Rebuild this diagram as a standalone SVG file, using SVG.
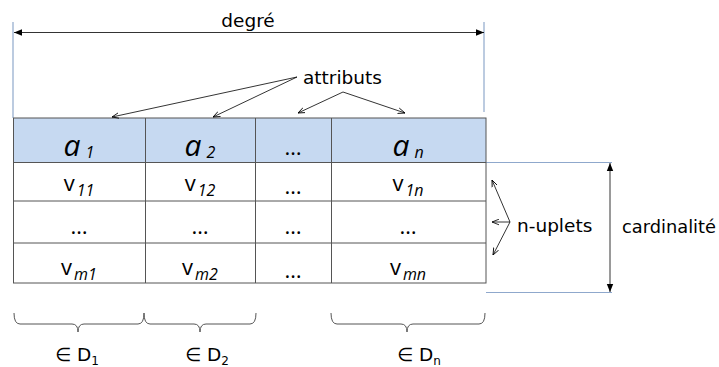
<svg xmlns="http://www.w3.org/2000/svg" width="719" height="367" viewBox="0 0 719 367">
<defs>
<marker id="ah" viewBox="0 0 10 10" refX="10" refY="5" markerWidth="7" markerHeight="7" orient="auto-start-reverse" markerUnits="userSpaceOnUse"><path d="M0,1 L10,5 L0,9" fill="none" stroke="#000" stroke-width="1.2"/></marker>
<marker id="af" viewBox="0 0 10 10" refX="10" refY="5" markerWidth="8" markerHeight="8" orient="auto-start-reverse" markerUnits="userSpaceOnUse"><path d="M0,1 L10,5 L0,9 z" fill="#000"/></marker>
</defs>
<style>
.lbl{font-family:"DejaVu Sans",Verdana,sans-serif;font-size:18.5px;fill:#000}
.cell{font-family:"Open Sans","Liberation Sans",sans-serif;font-size:22px;fill:#000;text-anchor:middle}
.hdr{font-family:"Open Sans","Liberation Sans",sans-serif;font-size:30px;font-style:italic;fill:#000;text-anchor:middle}
.sub{font-style:italic;font-size:16px}
.grid{stroke:#555;stroke-width:1;fill:none}
.blue{stroke:#8fa8cc;stroke-width:1.2;fill:none}
.thin{stroke:#000;stroke-width:0.8;fill:none}
.brace{stroke:#555;stroke-width:1;fill:none}
</style>
<rect width="719" height="367" fill="#fff"/>
<g id="guides">
<line class="blue" x1="13" y1="22" x2="13" y2="118"/>
<line class="blue" x1="484" y1="22" x2="484" y2="112"/>
<line class="blue" x1="486" y1="162.5" x2="612" y2="162.5"/>
<line class="blue" x1="486" y1="292.5" x2="612" y2="292.5"/>
</g>
<g id="table">
<rect x="13.5" y="118" width="472.5" height="44.5" fill="#c6d9f1"/>
<rect class="grid" x="13.5" y="118" width="472.5" height="165"/>
<line class="grid" x1="13.5" y1="162.5" x2="486" y2="162.5"/>
<line class="grid" x1="13.5" y1="201" x2="486" y2="201"/>
<line class="grid" x1="13.5" y1="243" x2="486" y2="243"/>
<line class="grid" x1="145.5" y1="118" x2="145.5" y2="283"/>
<line class="grid" x1="255.5" y1="118" x2="255.5" y2="283"/>
<line class="grid" x1="331.5" y1="118" x2="331.5" y2="283"/>
<text class="hdr" x="79" y="156">a<tspan class="sub" font-size="20" dx="5" dy="2">1</tspan></text>
<text class="hdr" x="200" y="156">a<tspan class="sub" font-size="20" dx="5" dy="2">2</tspan></text>
<text class="cell" x="293" y="155" font-size="22">…</text>
<text class="hdr" x="408" y="156">a<tspan class="sub" font-size="20" dx="5" dy="2">n</tspan></text>
<text class="cell" x="79" y="191">v<tspan class="sub" dx="2" dy="5">11</tspan></text>
<text class="cell" x="200" y="191">v<tspan class="sub" dx="2" dy="5">12</tspan></text>
<text class="cell" x="293" y="194" font-size="18">…</text>
<text class="cell" x="408" y="191">v<tspan class="sub" dx="2" dy="5">1n</tspan></text>
<text class="cell" x="79" y="234" font-size="18">…</text>
<text class="cell" x="200" y="234" font-size="18">…</text>
<text class="cell" x="293" y="234" font-size="18">…</text>
<text class="cell" x="408" y="234" font-size="18">…</text>
<text class="cell" x="79" y="275">v<tspan class="sub" dx="2" dy="5">m1</tspan></text>
<text class="cell" x="200" y="275">v<tspan class="sub" dx="2" dy="5">m2</tspan></text>
<text class="cell" x="293" y="278" font-size="18">…</text>
<text class="cell" x="408" y="275">v<tspan class="sub" dx="2" dy="5">mn</tspan></text>
</g>
<g id="labels">
<text class="lbl" x="248" y="27" text-anchor="middle">degré</text>
<text class="lbl" x="303" y="84">attributs</text>
<text class="lbl" x="517" y="232">n-uplets</text>
<text class="lbl" x="622" y="233" font-size="17.5" textLength="94" lengthAdjust="spacingAndGlyphs">cardinalité</text>
<text class="lbl" x="55" y="361">∈ D<tspan font-size="12" dy="4">1</tspan></text>
<text class="lbl" x="185" y="361">∈ D<tspan font-size="12" dy="4">2</tspan></text>
<text class="lbl" x="397" y="361">∈ D<tspan font-size="12" dy="4">n</tspan></text>
</g>
<g id="connectors">
<line class="thin" x1="14" y1="32.5" x2="484" y2="32.5" marker-start="url(#af)" marker-end="url(#af)" stroke-width="1.2"/>
<line class="thin" x1="610" y1="163" x2="610" y2="292" marker-start="url(#af)" marker-end="url(#af)" stroke-width="1.2"/>
<line class="thin" x1="297" y1="77" x2="112" y2="117" marker-end="url(#ah)"/>
<line class="thin" x1="297" y1="77" x2="213" y2="117" marker-end="url(#ah)"/>
<line class="thin" x1="343" y1="92" x2="298" y2="113" marker-end="url(#ah)"/>
<line class="thin" x1="343" y1="92" x2="405" y2="113" marker-end="url(#ah)"/>
<line class="thin" x1="510" y1="222" x2="492" y2="180" marker-end="url(#ah)"/>
<line class="thin" x1="510" y1="222" x2="492" y2="222" marker-end="url(#ah)"/>
<line class="thin" x1="510" y1="222" x2="493" y2="255" marker-end="url(#ah)"/>
</g>
<g id="braces">
<path class="brace" d="M14,313 Q14,324 20,324 L72,324 Q78,324 78,332 Q78,324 84,324 L138,324 Q144,324 144,313"/>
<path class="brace" d="M144,313 Q144,324 150,324 L194,324 Q200,324 200,332 Q200,324 206,324 L250,324 Q256,324 256,313"/>
<path class="brace" d="M331,313 Q331,324 337,324 L401,324 Q407,324 407,332 Q407,324 413,324 L479,324 Q485,324 485,313"/>
</g>
</svg>
